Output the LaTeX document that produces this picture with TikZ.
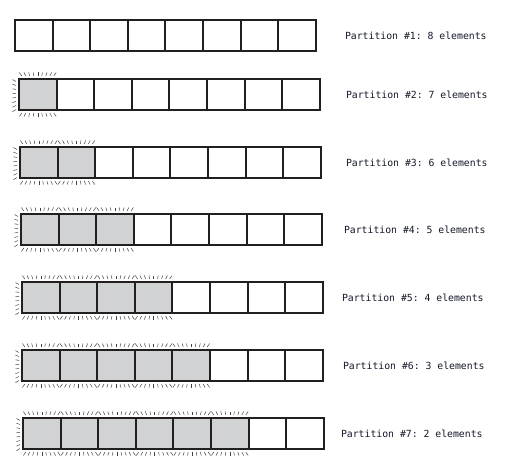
\documentclass[tikz,border=0pt]{standalone}
\usepackage{fontspec}
\setmonofont{DejaVu Sans Mono}
\usepackage{xcolor}
\usepackage{tikz}
\usetikzlibrary{positioning}
\definecolor{cline}{RGB}{35,31,32}
\definecolor{cfill}{RGB}{209,210,212}
\definecolor{ctext}{RGB}{20,24,40}
\tikzset{
	every node/.style = { inner sep=0pt, outer sep=0pt },
	cell/.style = { draw=cline, line width=2pt, minimum width=37.6pt, minimum height=31pt, anchor=north west },
	used/.style = { cell, fill=cfill },
	lab/.style = { font=\ttfamily\fontsize{9.8}{12}\selectfont, text=ctext, anchor=west },
	fringe/.style = { cline!85, line width=0.5pt },
}

\begin{document}
\begin{tikzpicture}[x=1pt,y=-1pt]
\useasboundingbox (0,0) rectangle (505,468);

% row / left edge / top edge / label x
\foreach \r/\lx/\ty/\tx in {1/15/20/345, 2/19/79/346, 3/20/147/346, 4/21/214/344, 5/22/282/342, 6/22/350/343, 7/23/418/341} {
	\pgfmathtruncatemacro{\nfree}{9-\r}
	\foreach \c in {1,...,8} {
		\def\sty{cell}
		\ifnum\c<\r \def\sty{used}\fi
		\node (r\r c\c) [\sty] at ({\lx+(\c-1)*37.6},\ty) {};
	}
	\node (lab\r) [lab] at (\tx,{\ty+15.5}) {Partition \#\r: \nfree{} elements};
}

% blurred edge round the used cells
\foreach \r/\lx/\ty in {2/19/79, 3/20/147, 4/21/214, 5/22/282, 6/22/350, 7/23/418} {
	\pgfmathtruncatemacro{\nused}{\r-1}
	\foreach \c in {1,...,\nused} {
		\pgfmathsetmacro{\cx}{\lx+(\c-0.5)*37.6}
		\foreach \i in {-16,-12,-8,-4,0,4,8,12,16} {
			\draw[fringe] ({\cx+\i},{\ty-3}) -- ({\cx+1.15*\i},{\ty-6.5});
			\draw[fringe] ({\cx+\i},{\ty+34}) -- ({\cx+1.15*\i},{\ty+37.5});
		}
	}
	\foreach \j in {-13,-9,...,15}
		\draw[fringe] ({\lx-3},{\ty+15.5+\j}) -- ({\lx-6.5},{\ty+15.5+1.15*\j});
}

\end{tikzpicture}
\end{document}
